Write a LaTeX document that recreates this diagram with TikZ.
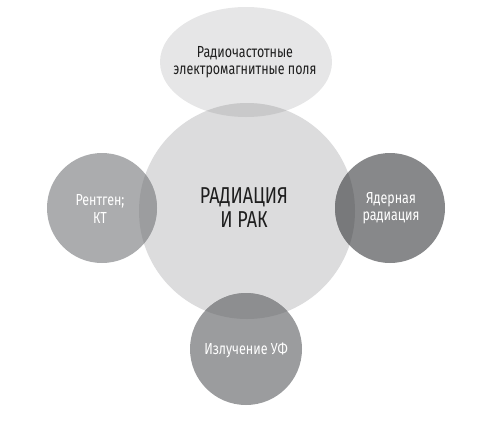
\documentclass[tikz,border=0pt]{standalone}
\usepackage{fontspec}
\setmainfont{Fira Sans}[FakeStretch=0.78]
\usetikzlibrary{shapes.geometric}
\definecolor{bigc}{HTML}{DCDCDD}
\definecolor{topc}{HTML}{E6E6E7}
\definecolor{topo}{HTML}{C9C9CA}
\definecolor{leftc}{HTML}{ABACAE}
\definecolor{lefto}{HTML}{9C9D9F}
\definecolor{rightc}{HTML}{87888A}
\definecolor{righto}{HTML}{78797B}
\definecolor{botc}{HTML}{9B9C9E}
\definecolor{boto}{HTML}{8D8E90}
\definecolor{ink}{HTML}{1E1E1E}
\tikzset{
  small/.style={font=\fontsize{16}{17.5}\selectfont},
}
\begin{document}
\begin{tikzpicture}[x=1pt,y=-1pt]
\useasboundingbox (0,0) rectangle (497,424);
% base shapes
\fill[topc] (246,62) ellipse [x radius=86,y radius=55];
\fill[bigc] (247,211) circle (108);
\fill[leftc] (102,208) circle (55);
\fill[rightc] (390,208) circle (55);
\fill[botc] (246,349) circle (56);
% overlaps
\begin{scope}
  \clip (247,211) circle (108);
  \fill[topo] (246,62) ellipse [x radius=86,y radius=55];
  \fill[lefto] (102,208) circle (55);
  \fill[righto] (390,208) circle (55);
  \fill[boto] (246,349) circle (56);
\end{scope}
% texts
\node[align=center,text=ink,font=\fontsize{23}{24}\selectfont] (main) at (244,208) {РАДИАЦИЯ\\И РАК};
\node[align=center,text=ink,small] (rf) at (245,62) {Радиочастотные\\электромагнитные поля};
\node[align=center,small,text=white] (xr) at (100,209) {Рентген;\\КТ};
\node[align=center,small,text=white] (nu) at (391,208) {Ядерная\\радиация};
\node[align=center,small,text=white] (uv) at (246,350) {Излучение УФ};
\end{tikzpicture}
\end{document}
